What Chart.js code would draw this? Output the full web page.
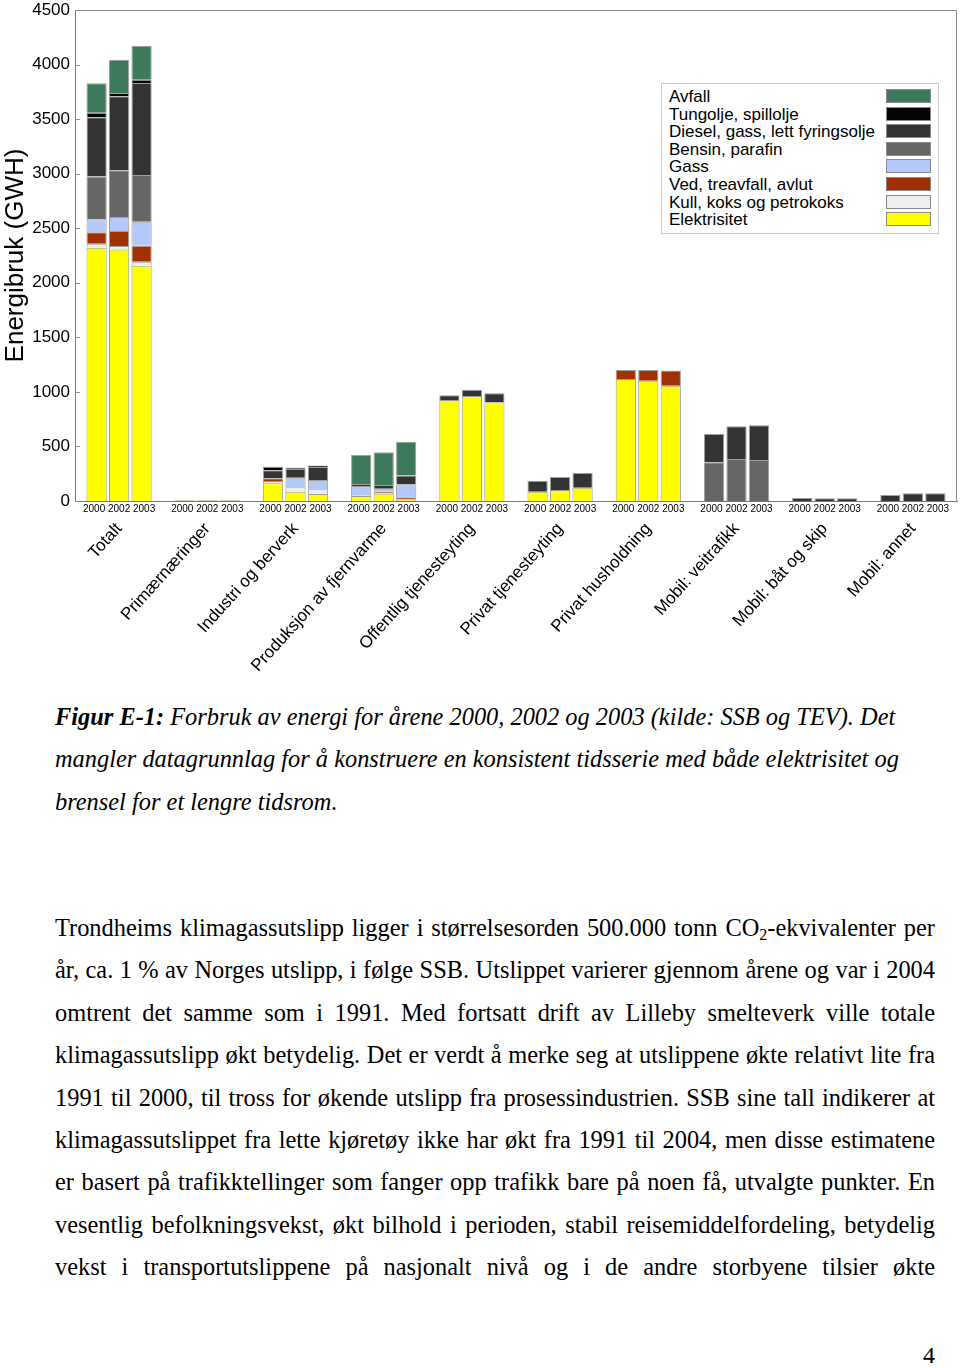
<!DOCTYPE html>
<html>
<head>
<meta charset="utf-8">
<script src="https://cdn.jsdelivr.net/npm/chart.js@4.4.1/dist/chart.umd.min.js"></script>
<style>
  body { margin: 0; background: #fff; width: 960px; height: 1368px; position: relative; overflow: hidden; }
  #wrap { position: absolute; left: 0; top: 0; width: 960px; height: 690px; }
  #legend { position: absolute; left: 661px; top: 83px; width: 276px; height: 149px; border: 1px solid #c8c8c8; background: #fff;
            font-family: "Liberation Sans", Arial, sans-serif; font-size: 17px; color: #000; }
  #legend .row { position: absolute; left: 7px; height: 18px; line-height: 18px; white-space: nowrap; }
  #legend .sw { position: absolute; left: 224px; width: 45px; height: 14px; border: 1px solid #8a8a8a; box-sizing: border-box; }
  .text { position: absolute; left: 55px; width: 880px; font-family: "Liberation Serif", "Times New Roman", serif; font-size: 24.4px; line-height: 42.4px; color: #000; }
  .caption { font-style: italic; }
  .just div { text-align: justify; text-align-last: justify; }
  sub { font-size: 16px; line-height: 0; vertical-align: -4px; }
  #page { position: absolute; right: 25px; top: 1340px; font-family: "Liberation Serif", serif; font-size: 24px; line-height: 30px; }
</style>
</head>
<body>
<div id="wrap"><canvas id="energyChart"></canvas></div>
<div id="legend"></div>

<div class="text caption" style="top:696px">
  <div><b>Figur E-1:</b> Forbruk av energi for årene 2000, 2002 og 2003 (kilde: SSB og TEV). Det</div>
  <div>mangler datagrunnlag for å konstruere en konsistent tidsserie med både elektrisitet og</div>
  <div>brensel for et lengre tidsrom.</div>
</div>

<div class="text just" style="top:907px">
  <div>Trondheims klimagassutslipp ligger i størrelsesorden 500.000 tonn CO<sub>2</sub>-ekvivalenter per</div>
  <div>år, ca. 1 % av Norges utslipp, i følge SSB. Utslippet varierer gjennom årene og var i 2004</div>
  <div>omtrent det samme som i 1991. Med fortsatt drift av Lilleby smelteverk ville totale</div>
  <div>klimagassutslipp økt betydelig. Det er verdt å merke seg at utslippene økte relativt lite fra</div>
  <div>1991 til 2000, til tross for økende utslipp fra prosessindustrien. SSB sine tall indikerer at</div>
  <div>klimagassutslippet fra lette kjøretøy ikke har økt fra 1991 til 2004, men disse estimatene</div>
  <div>er basert på trafikktellinger som fanger opp trafikk bare på noen få, utvalgte punkter. En</div>
  <div>vesentlig befolkningsvekst, økt bilhold i perioden, stabil reisemiddelfordeling, betydelig</div>
  <div>vekst i transportutslippene på nasjonalt nivå og i de andre storbyene tilsier økte</div>
</div>
<div id="page">4</div>

<script>
// sectors and years (each sector has one bar per year)
const groups = ['Totalt', 'Primærnæringer', 'Industri og berverk', 'Produksjon av fjernvarme', 'Offentlig tjenesteyting',
  'Privat tjenesteyting', 'Privat husholdning', 'Mobil: veitrafikk', 'Mobil: båt og skip', 'Mobil: annet'];
const years = ['2000', '2002', '2003'];
const yTicks = [0, 500, 1000, 1500, 2000, 2500, 3000, 3500, 4000, 4500];

// GWh per sector, [2000, 2002, 2003]
const elektrisitet = [[2320, 2305, 2155], [5, 5, 5], [162, 85, 64], [46, 67, 9], [926, 962, 905],
  [85, 101, 122], [1118, 1103, 1057], [0, 0, 0], [0, 0, 0], [0, 0, 0]];
const kull = [[37, 33, 37], [0, 0, 0], [21, 40, 43], [9, 6, 5], [0, 0, 0],
  [0, 0, 0], [0, 0, 0], [0, 0, 0], [0, 0, 0], [0, 0, 0]];
const ved = [[107, 137, 147], [0, 0, 0], [25, 0, 0], [0, 12, 21], [0, 0, 0],
  [0, 0, 0], [82, 98, 140], [0, 0, 0], [0, 0, 0], [0, 0, 0]];
const gass = [[119, 128, 220], [0, 0, 0], [0, 89, 85], [82, 27, 116], [0, 0, 0],
  [0, 0, 0], [0, 0, 0], [0, 0, 0], [0, 0, 0], [0, 0, 0]];
const bensin = [[390, 428, 428], [0, 0, 0], [0, 0, 0], [0, 0, 0], [0, 0, 0],
  [0, 0, 0], [0, 0, 0], [355, 385, 376], [0, 0, 0], [0, 0, 0]];
const diesel = [[544, 678, 843], [5, 5, 5], [73, 82, 119], [18, 34, 82], [43, 58, 82],
  [101, 119, 134], [0, 0, 0], [260, 300, 318], [27, 26, 25], [55, 70, 70]];
const tungolje = [[42, 30, 30], [0, 0, 0], [34, 12, 15], [0, 0, 0], [0, 0, 0],
  [0, 0, 0], [0, 0, 0], [0, 0, 0], [0, 0, 0], [0, 0, 0]];
const avfall = [[269, 306, 312], [0, 0, 0], [0, 0, 0], [266, 300, 309], [0, 0, 0],
  [0, 0, 0], [0, 0, 0], [0, 0, 0], [0, 0, 0], [0, 0, 0]];

// stacking order, bottom to top
const fuels = [
  { name: 'Elektrisitet', values: elektrisitet, color: '#ffff00' },
  { name: 'Kull, koks og petrokoks', values: kull, color: '#eeeeee' },
  { name: 'Ved, treavfall, avlut', values: ved, color: '#a33000' },
  { name: 'Gass', values: gass, color: '#b4c8fa' },
  { name: 'Bensin, parafin', values: bensin, color: '#666666' },
  { name: 'Diesel, gass, lett fyringsolje', values: diesel, color: '#333333' },
  { name: 'Tungolje, spillolje', values: tungolje, color: '#050505' },
  { name: 'Avfall', values: avfall, color: '#3d7a5c' }
];

const datasets = [];
fuels.forEach(f => {
  years.forEach((yr, j) => {
    datasets.push({
      label: f.name,
      data: f.values.map(g => g[j]),
      stack: yr,
      backgroundColor: f.color,
      borderColor: 'rgba(80,80,70,0.55)',
      borderWidth: 1,
      categoryPercentage: 0.765,
      barPercentage: 0.9
    });
  });
});

// html legend, top entry = top of stack
const legendEl = document.getElementById('legend');
legendEl.innerHTML = fuels.slice().reverse().map((f, i) => `
  <div class="row" style="top:${4 + i * 17.6}px">${f.name}</div>
  <div class="sw" style="top:${5 + i * 17.6}px;background:${f.color}"></div>
`).join('');

// plot box (top/right edges) and inward tick marks
const frame = {
  id: 'frame',
  afterDatasetsDraw(chart) {
    const { ctx, chartArea: a, scales } = chart;
    ctx.save();
    ctx.strokeStyle = '#8c8c8c';
    ctx.lineWidth = 1;
    ctx.beginPath();
    ctx.moveTo(a.left, a.top + 0.5);
    ctx.lineTo(a.right - 0.5, a.top + 0.5);
    ctx.lineTo(a.right - 0.5, a.bottom);
    scales.y.ticks.forEach(t => {
      const y = Math.round(scales.y.getPixelForValue(t.value)) + 0.5;
      ctx.moveTo(a.left, y);
      ctx.lineTo(a.left + 5, y);
    });
    ctx.stroke();
    ctx.restore();
  }
};

new Chart(document.getElementById('energyChart'), {
  type: 'bar',
  data: { labels: groups, datasets: datasets },
  options: {
    responsive: true,
    maintainAspectRatio: false,
    animation: false,
    layout: { padding: { top: 10, right: 3, left: 0, bottom: 0 } },
    plugins: { legend: { display: false }, tooltip: { enabled: false } },
    scales: {
      x: {
        stacked: true,
        weight: 0,
        grid: { display: false, drawTicks: false },
        border: { color: '#777' },
        ticks: {
          color: '#000', font: { family: 'Liberation Sans', size: 10 },
          padding: 2, maxRotation: 0, autoSkip: false,
          callback: () => years.join(' ')
        },
        afterFit: s => { s.height = 16; }
      },
      x2: {
        type: 'category',
        labels: groups,
        position: 'bottom',
        weight: 1,
        offset: true,
        grid: { display: false, drawTicks: false },
        border: { display: false },
        ticks: {
          color: '#000', font: { family: 'Liberation Sans', size: 17 },
          padding: 2, minRotation: 48, maxRotation: 48, autoSkip: false
        },
        afterFit: s => { s.height = 173; }
      },
      y: {
        stacked: true,
        min: 0,
        max: 4500,
        grid: { display: false, drawTicks: false },
        border: { color: '#777' },
        afterBuildTicks: s => { s.ticks = yTicks.map(v => ({ value: v })); },
        ticks: { color: '#000', font: { family: 'Liberation Sans', size: 17 }, padding: 5, callback: v => String(v) },
        title: {
          display: true, text: 'Energibruk (GWH)', color: '#000',
          font: { family: 'Liberation Sans', size: 26 }, padding: { top: 0, bottom: 0 }
        },
        afterFit: s => { s.width = 75; s.paddingTop = 0; s.paddingBottom = 0; }
      }
    }
  },
  plugins: [frame]
});
</script>
</body>
</html>
